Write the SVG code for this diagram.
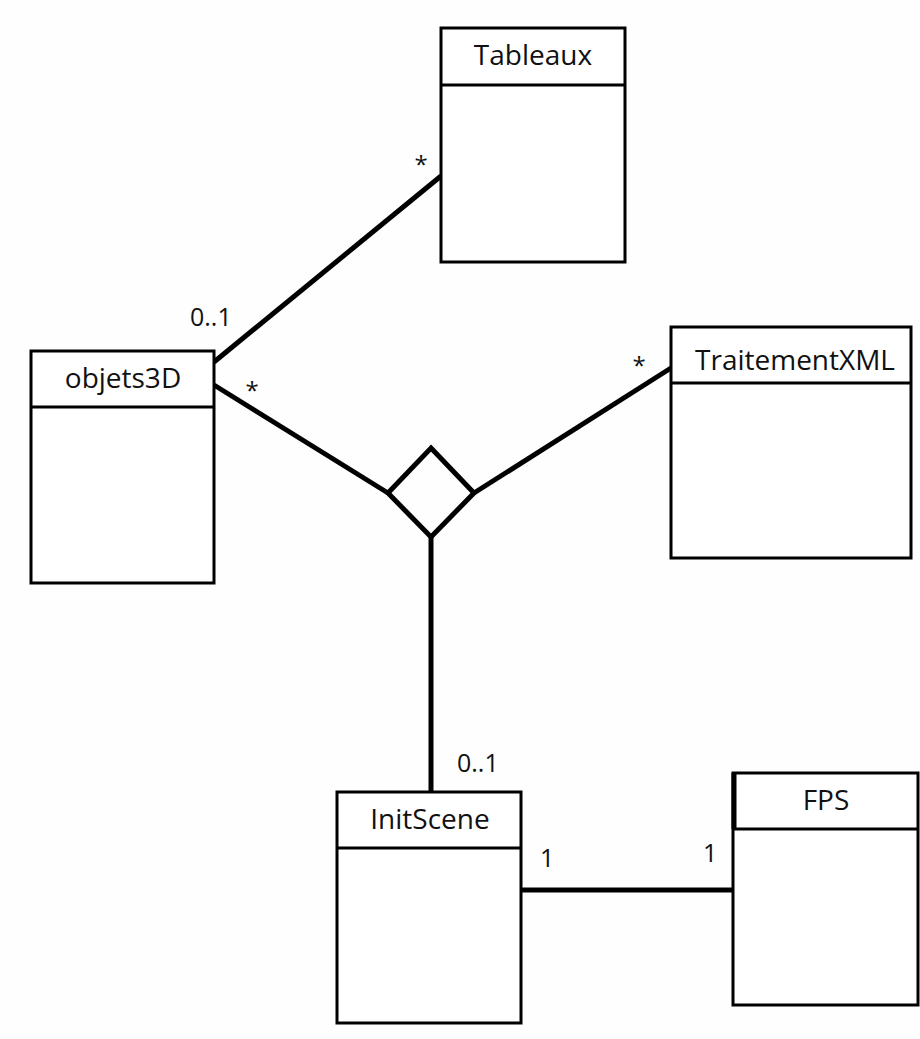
<svg xmlns="http://www.w3.org/2000/svg" width="920" height="1039" viewBox="0 0 920 1039">
<style>
.box{fill:#fff;stroke:#000;stroke-width:3}
.div{stroke:#000;stroke-width:3}
.conn{stroke:#000;stroke-width:5;fill:none}
.name{font-family:"Open Sans","Liberation Sans",sans-serif;font-size:28px;fill:#111;text-anchor:middle}
.mult{font-family:"Open Sans","Liberation Sans",sans-serif;font-size:25px;fill:#111}
.star{font-family:"Open Sans","Liberation Sans",sans-serif;font-size:24px;fill:#111;text-anchor:middle}
</style>
<rect width="920" height="1039" fill="#fefefe"/>
<g id="connectors">
<line class="conn" x1="214" y1="362" x2="441" y2="176"/>
<line class="conn" x1="214" y1="385" x2="388" y2="493"/>
<line class="conn" x1="474" y1="493" x2="671" y2="368"/>
<polygon class="conn" points="431,448 474,493 431,537 388,493"/>
<line class="conn" x1="431" y1="537" x2="431" y2="792"/>
<line class="conn" x1="521" y1="890" x2="733" y2="890"/>
</g>
<g id="Tableaux">
<rect class="box" x="441" y="28" width="184" height="234"/>
<line class="div" x1="441" y1="85" x2="625" y2="85"/>
<text class="name" x="533" y="65">Tableaux</text>
</g>
<g id="objets3D">
<rect class="box" x="31" y="351" width="183" height="232"/>
<line class="div" x1="31" y1="407" x2="214" y2="407"/>
<text class="name" x="123" y="388">objets3D</text>
</g>
<g id="TraitementXML">
<rect class="box" x="671" y="327" width="240" height="231"/>
<line class="div" x1="671" y1="383" x2="911" y2="383"/>
<text class="name" x="795" y="370">TraitementXML</text>
</g>
<g id="InitScene">
<rect class="box" x="337" y="792" width="184" height="231"/>
<line class="div" x1="337" y1="848" x2="521" y2="848"/>
<text class="name" x="430" y="829">InitScene</text>
</g>
<g id="FPS">
<rect class="box" x="733" y="773" width="185" height="232"/>
<line class="div" x1="733" y1="829" x2="918" y2="829"/>
<line x1="734" y1="773" x2="734" y2="829" stroke="#000" stroke-width="5"/>
<text class="name" x="826" y="810">FPS</text>
</g>
<g id="labels">
<text class="star" x="421" y="173">*</text>
<text class="mult" x="190" y="326">0..1</text>
<text class="star" x="252" y="399">*</text>
<text class="star" x="639" y="374">*</text>
<text class="mult" x="457" y="772">0..1</text>
<text class="mult" x="540" y="867">1</text>
<text class="mult" x="703" y="862">1</text>
</g>
</svg>
